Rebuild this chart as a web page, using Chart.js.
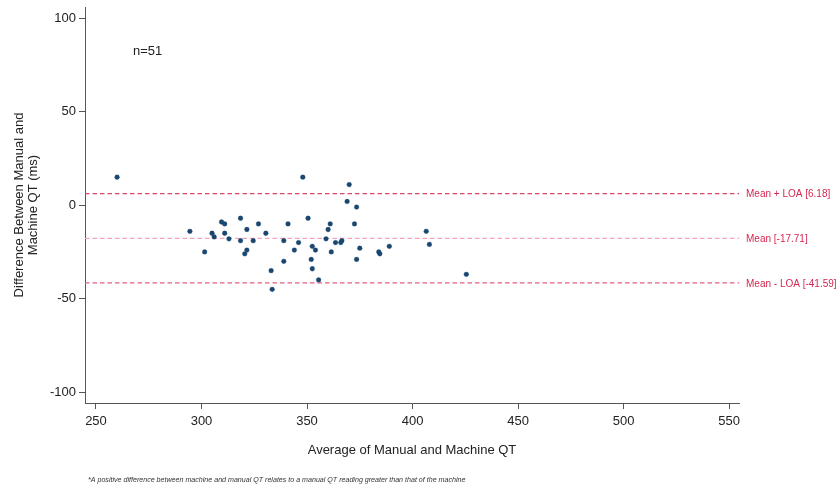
<!DOCTYPE html>
<html>
<head>
<meta charset="utf-8">
<title>Bland-Altman: Manual vs Machine QT</title>
<script src="https://cdn.jsdelivr.net/npm/chart.js@4.4.1/dist/chart.umd.min.js"></script>
<style>
  html, body { margin: 0; padding: 0; background: #ffffff; }
  #wrap { width: 836px; height: 487px; position: relative; }
</style>
</head>
<body>
<div id="wrap"><canvas id="c" width="836" height="487"></canvas></div>
<script>
// Average of manual and machine QT (ms) for each recording
const avgQT = [
  260, 294.5, 301.5, 305, 306, 309.5, 311, 311, 313, 318.5,
  318.5, 321.5, 321.5, 320.5, 324.5, 327, 330.5, 333, 333.5, 339,
  339, 341, 344, 346, 348, 350.5, 352, 352.5, 352.5, 354,
  355.5, 359, 360, 361, 361.5, 363.5, 366, 366.5, 369, 370,
  372.5, 373.5, 375, 373.5, 384, 384.5, 389, 406.5, 408, 425.5
];
// Difference between manual and machine QT (ms), same order
const diffQT = [
  15, -14, -25, -15, -17, -9, -10, -15, -18, -7,
  -19, -13, -24, -26, -19, -10, -15, -35, -45, -19,
  -30, -10, -24, -20, 15, -7, -29, -34, -22, -24,
  -40, -18, -13, -10, -25, -20, -20, -19, 2, 11,
  -10, -1, -23, -29, -25, -26, -22, -14, -21, -37
];

// Agreement statistics
const meanDiff = -17.71;
const upperLOA = 6.18;
const lowerLOA = -41.59;
const sampleSize = 51;

// Axis ticks and ranges
const xTicks = [250, 300, 350, 400, 450, 500, 550];
const yTicks = [-100, -50, 0, 50, 100];
const xRange = [244.8, 554.7];
const yRange = [-105.8, 106];

const refLines = [
  { value: upperLOA, label: 'Mean + LOA [' + upperLOA.toFixed(2) + ']', color: '#d9456b' },
  { value: meanDiff, label: 'Mean [' + meanDiff.toFixed(2) + ']', color: '#f3a3bb' },
  { value: lowerLOA, label: 'Mean - LOA [' + lowerLOA.toFixed(2) + ']', color: '#e4607f' }
];

const footnote = '*A positive difference between machine and manual QT relates to a manual QT reading greater than that of the machine';

const points = avgQT.map((x, i) => ({ x: x, y: diffQT[i] }));

const lineDatasets = refLines.map(r => ({
  type: 'line',
  data: [{ x: xRange[0], y: r.value }, { x: xRange[1], y: r.value }],
  borderColor: r.color,
  borderWidth: 1.2,
  borderDash: [4.5, 3],
  pointRadius: 0,
  fill: false,
  order: 2
}));

// Labels for the reference lines, the sample size and the footnote
const annotations = {
  id: 'annotations',
  afterDatasetsDraw(chart) {
    const ctx = chart.ctx;
    const xs = chart.scales.x, ys = chart.scales.y;
    const area = chart.chartArea;
    ctx.save();
    ctx.font = '10px "Liberation Sans", Arial, sans-serif';
    ctx.fillStyle = '#d42750';
    ctx.textAlign = 'left';
    ctx.textBaseline = 'middle';
    refLines.forEach(r => {
      ctx.fillText(r.label, area.right + 7, ys.getPixelForValue(r.value) + 1);
    });

    ctx.font = '13px "Liberation Sans", Arial, sans-serif';
    ctx.fillStyle = '#222222';
    ctx.fillText('n=' + sampleSize, xs.getPixelForValue(267.5), ys.getPixelForValue(82));

    ctx.font = 'italic 7.1px "Liberation Sans", Arial, sans-serif';
    ctx.fillStyle = '#333333';
    ctx.fillText(footnote, 88, 480);
    ctx.restore();
  }
};

new Chart(document.getElementById('c'), {
  type: 'scatter',
  data: {
    datasets: [
      {
        data: points,
        backgroundColor: '#1a476f',
        borderColor: 'rgba(26,71,111,0.35)',
        borderWidth: 0.8,
        pointRadius: 2.4,
        order: 1
      },
      ...lineDatasets
    ]
  },
  options: {
    responsive: false,
    animation: false,
    devicePixelRatio: 1,
    layout: { padding: { top: 7, right: 97, left: 0, bottom: 0 } },
    plugins: {
      legend: { display: false },
      tooltip: { enabled: false }
    },
    scales: {
      x: {
        type: 'linear',
        min: xRange[0],
        max: xRange[1],
        afterBuildTicks(scale) { scale.ticks = xTicks.map(v => ({ value: v })); },
        afterFit(scale) { scale.height = 84; scale.paddingLeft = 0; scale.paddingRight = 0; },
        border: { display: true, color: '#555555', width: 1 },
        grid: { drawOnChartArea: false, drawTicks: true, tickLength: 6, color: '#555555' },
        ticks: {
          color: '#222222',
          padding: 5,
          maxRotation: 0,
          font: { family: '"Liberation Sans", Arial, sans-serif', size: 13 }
        },
        title: {
          display: true,
          text: 'Average of Manual and Machine QT',
          color: '#222222',
          padding: { top: 4, bottom: 29 },
          font: { family: '"Liberation Sans", Arial, sans-serif', size: 13 }
        }
      },
      y: {
        type: 'linear',
        min: yRange[0],
        max: yRange[1],
        afterBuildTicks(scale) { scale.ticks = yTicks.map(v => ({ value: v })); },
        afterFit(scale) { scale.width = 85; scale.paddingTop = 0; scale.paddingBottom = 0; },
        border: { display: true, color: '#555555', width: 1 },
        grid: { drawOnChartArea: false, drawTicks: true, tickLength: 6, color: '#555555' },
        ticks: {
          color: '#222222',
          padding: 3,
          font: { family: '"Liberation Sans", Arial, sans-serif', size: 13 }
        },
        title: {
          display: true,
          text: ['Difference Between Manual and', 'Machine QT (ms)'],
          color: '#222222',
          padding: { top: 12, bottom: 0 },
          font: { family: '"Liberation Sans", Arial, sans-serif', size: 13, lineHeight: 1.1 }
        }
      }
    }
  },
  plugins: [annotations]
});
</script>
</body>
</html>
